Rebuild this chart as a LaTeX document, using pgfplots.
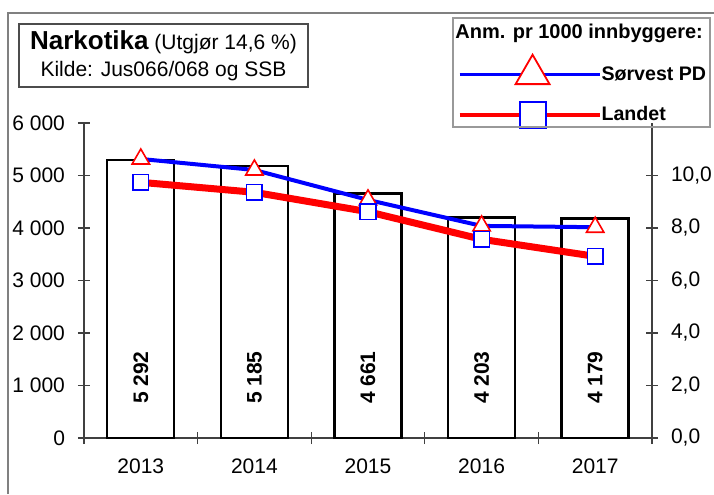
\documentclass[border=0pt]{standalone}
\usepackage{fontspec}
\setmainfont{Liberation Sans}
\usepackage{pgfplots}
\usepackage{pgfplotstable}
\pgfplotsset{compat=1.18}

% x n = anmeldelser (bars), sorvest / landet = anm. pr 1000 innbyggere
\pgfplotstableread{
x year n sorvest landet
0 2013 5292 10.63 9.74
1 2014 5185 10.21 9.36
2 2015 4661 9.07 8.62
3 2016 4203 8.08 7.57
4 2017 4179 8.03 6.92
}\narko

\pgfplotsset{
  base/.style={
    scale only axis, width=284pt, height=157.5pt,
    at={(0pt,0pt)}, anchor=south west,
    xmin=-0.5, xmax=4.5,
    tick align=center, major tick length=6pt,
    axis line style={black!75, line width=0.6pt},
    every tick/.style={black!75, line width=0.6pt},
    tick label style={font=\fontsize{10.5}{12.6}\selectfont},
    /pgf/number format/assume math mode=true,
    /pgf/number format/1000 sep={\ },
  }
}

\begin{document}
\begin{tikzpicture}[font=\fontsize{10.5}{12.6}\selectfont]
\path[use as bounding box] (-42pt,-28pt) rectangle (315pt,219pt);

\begin{axis}[base,
  ymin=0, ymax=6000, ytick={0,1000,...,6000},
  axis x line*=bottom, axis y line*=left,
  xtick={-0.5,0.5,...,4.5}, xticklabels={},
  extra x ticks={0,1,2,3,4},
  extra x tick labels={2013,2014,2015,2016,2017},
  extra x tick style={major tick length=0pt, xticklabel style={yshift=-7pt}},
  yticklabel style={xshift=-3pt},
]
\addplot[ybar, bar width=33.5pt, draw=black, fill=white, line width=1.2pt]
  table[x=x, y=n]{\narko};
\addplot[draw=none, mark=none, nodes near coords, point meta=\thisrow{n},
  every node near coord/.append style={anchor=center, rotate=90,
    font=\fontsize{10.5}{12.6}\selectfont\bfseries}]
  table[x=x, y expr=1150]{\narko};
\end{axis}

\begin{axis}[base,
  ymin=0, ymax=12, ytick={0,2,...,10},
  axis x line=none, axis y line*=right,
  yticklabel style={xshift=3pt, /pgf/number format/.cd, fixed, fixed zerofill, precision=1, use comma},
  legend cell align=left,
  legend style={at={(0.657,1.218)}, anchor=north west, draw=none, fill=none,
    inner xsep=0pt, inner ysep=0pt, row sep=8.6pt, column sep=0pt,
    nodes={inner sep=0pt, text height=8pt, text depth=2pt},
    font=\fontsize{9.8}{12}\selectfont\bfseries},
  legend image code/.code={
    \draw[mark repeat=2, mark phase=2, #1] plot coordinates {(0pt,0pt) (36.5pt,0pt) (70pt,0pt)};
  },
]
\addplot[blue, line width=2pt, mark=triangle*, mark size=5pt,
  mark options={draw=red, fill=white, line width=0.8pt},
  legend image post style={line width=1.6pt, mark size=9.8pt,
    mark options={draw=red, fill=white, line width=0.9pt}}]
  table[x=x, y=sorvest]{\narko};
\addlegendentry{Sørvest PD}
\addplot[red, line width=3.5pt, mark=square*, mark size=3.9pt,
  mark options={draw=blue, fill=white, line width=0.8pt},
  legend image post style={line width=2pt, mark size=6.5pt,
    mark options={draw=blue, fill=white, line width=1pt}}]
  table[x=x, y=landet]{\narko};
\addlegendentry{Landet}
\end{axis}

% outer frame (cropped)
\draw[gray, line width=0.9pt] (-38pt,-28pt) -- (-38pt,212.5pt) -- (315pt,212.5pt);

% title box
\node[draw=black!70, line width=0.6pt, fill=white, minimum width=144.5pt, minimum height=31.5pt,
  align=center, inner sep=0pt] at (39.75pt,191.25pt)
  {{\fontsize{13}{15}\selectfont\bfseries Narkotika} (Utgjør 14,6 \%)\\[1pt]
   Kilde: Jus066/068 og SSB};

% legend frame and header
\draw[gray!80, line width=0.8pt] (184.5pt,155.5pt) rectangle (313pt,210pt);
\node[anchor=west, inner sep=0pt, font=\fontsize{10}{12}\selectfont\bfseries]
  at (185.5pt,202.5pt) {Anm. pr 1000 innbyggere:};
\end{tikzpicture}
\end{document}
